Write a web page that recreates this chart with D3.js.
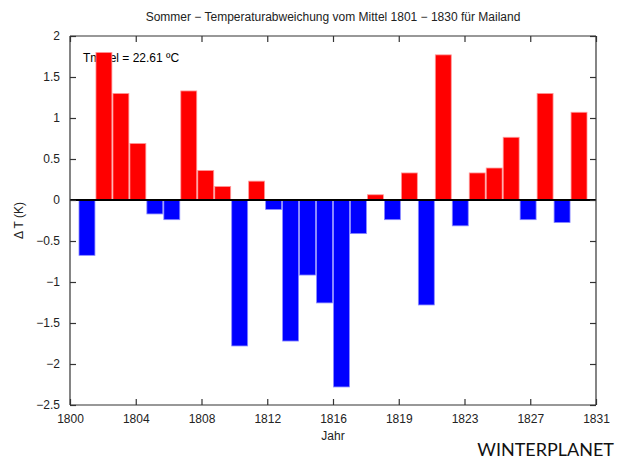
<!DOCTYPE html>
<html><head><meta charset="utf-8">
<script src="https://cdn.jsdelivr.net/npm/d3@7"></script>
<style>body{margin:0;background:#fff}</style>
</head><body>
<script>
const years = d3.range(1801, 1831);
const anomalies = [-0.675, 1.80, 1.30, 0.69, -0.17, -0.24, 1.33, 0.36, 0.165, -1.78,
  0.23, -0.115, -1.72, -0.915, -1.255, -2.28, -0.41, 0.064, -0.24, 0.33,
  -1.28, 1.77, -0.315, 0.33, 0.39, 0.765, -0.24, 1.30, -0.275, 1.07];
const xTickLabels = ["1800","1804","1808","1812","1816","1819","1823","1827","1831"];
const yTicks = [-2.5, -2, -1.5, -1, -0.5, 0, 0.5, 1, 1.5, 2];
const title = "Sommer \u2212 Temperaturabweichung vom Mittel 1801 \u2212 1830 f\u00fcr Mailand";
const note = "Tmittel = 22.61 \u00baC";

const W = 621, H = 459;
const L = 70, R = 596, T = 36, B = 405;
const svg = d3.select("body").append("svg").attr("width", W).attr("height", H)
  .style("font-family", "'Liberation Sans', Arial, sans-serif");

const x = d3.scaleLinear().domain([1800, 1831]).range([L, R]);
const y = d3.scaleLinear().domain([-2.5, 2]).range([B, T]);
const xTicks = xTickLabels.map((d, i) => 1800 + i * 31 / (xTickLabels.length - 1));
const fmt = v => (v < 0 ? "\u2212" : "") + Math.abs(v);

// note text (under bars)
svg.append("text").attr("x", 83).attr("y", 62).attr("font-size", 12).attr("fill", "#000").text(note);

// bars
const bw = 0.94;
svg.append("g").selectAll("rect").data(years).join("rect")
  .attr("x", (d) => x(d - bw / 2))
  .attr("width", (d) => x(d + bw / 2) - x(d - bw / 2))
  .attr("y", (d, i) => y(Math.max(0, anomalies[i])))
  .attr("height", (d, i) => Math.abs(y(anomalies[i]) - y(0)))
  .attr("fill", (d, i) => anomalies[i] >= 0 ? "#ff0000" : "#0000ff")
  .attr("stroke", (d, i) => anomalies[i] >= 0 ? "#ff9a9a" : "#8a8aff")
  .attr("stroke-width", 0.8);

// zero line
svg.append("line").attr("x1", L).attr("x2", R).attr("y1", y(0)).attr("y2", y(0))
  .attr("stroke", "#000").attr("stroke-width", 2);

// axes (ticks inward on all sides)
const tl = 6, axc = "#333";
const gB = svg.append("g").attr("transform", `translate(0,${B})`)
  .call(d3.axisBottom(x).tickValues(xTicks).tickSize(-tl).tickPadding(9).tickFormat((d, i) => xTickLabels[i]));
const gT = svg.append("g").attr("transform", `translate(0,${T})`)
  .call(d3.axisTop(x).tickValues(xTicks).tickSize(-tl).tickFormat(""));
const gL = svg.append("g").attr("transform", `translate(${L},0)`)
  .call(d3.axisLeft(y).tickValues(yTicks).tickSize(-tl).tickPadding(10).tickFormat(fmt));
const gR = svg.append("g").attr("transform", `translate(${R},0)`)
  .call(d3.axisRight(y).tickValues(yTicks).tickSize(-tl).tickFormat(""));
[gB, gT, gL, gR].forEach(g => {
  g.select(".domain").attr("stroke", axc).attr("stroke-width", 1.2);
  g.selectAll(".tick line").attr("stroke", axc).attr("stroke-width", 1.2);
  g.selectAll("text").attr("font-size", 12).attr("fill", "#222")
    .style("font-family", "'Liberation Sans', Arial, sans-serif");
});
gB.select(".domain").attr("d", `M${L},0H${R}`);
gT.select(".domain").attr("d", `M${L},0H${R}`);
gL.select(".domain").attr("d", `M0,${T}V${B}`);
gR.select(".domain").attr("d", `M0,${T}V${B}`);

// title and labels
svg.append("text").attr("x", (L + R) / 2).attr("y", 21).attr("text-anchor", "middle")
  .attr("font-size", 12).attr("fill", "#222").text(title);
svg.append("text").attr("x", (L + R) / 2).attr("y", 440).attr("text-anchor", "middle")
  .attr("font-size", 12).attr("fill", "#222").text("Jahr");
svg.append("text").attr("transform", `translate(23,${(T + B) / 2}) rotate(-90)`)
  .attr("text-anchor", "middle").attr("font-size", 12).attr("fill", "#222").text("\u0394 T (K)");
svg.append("text").attr("x", 614).attr("y", 456).attr("text-anchor", "end")
  .attr("font-size", 18).attr("fill", "#111").style("font-family", "Lato, 'Open Sans', sans-serif")
  .text("WINTERPLANET");
</script>
</body></html>
